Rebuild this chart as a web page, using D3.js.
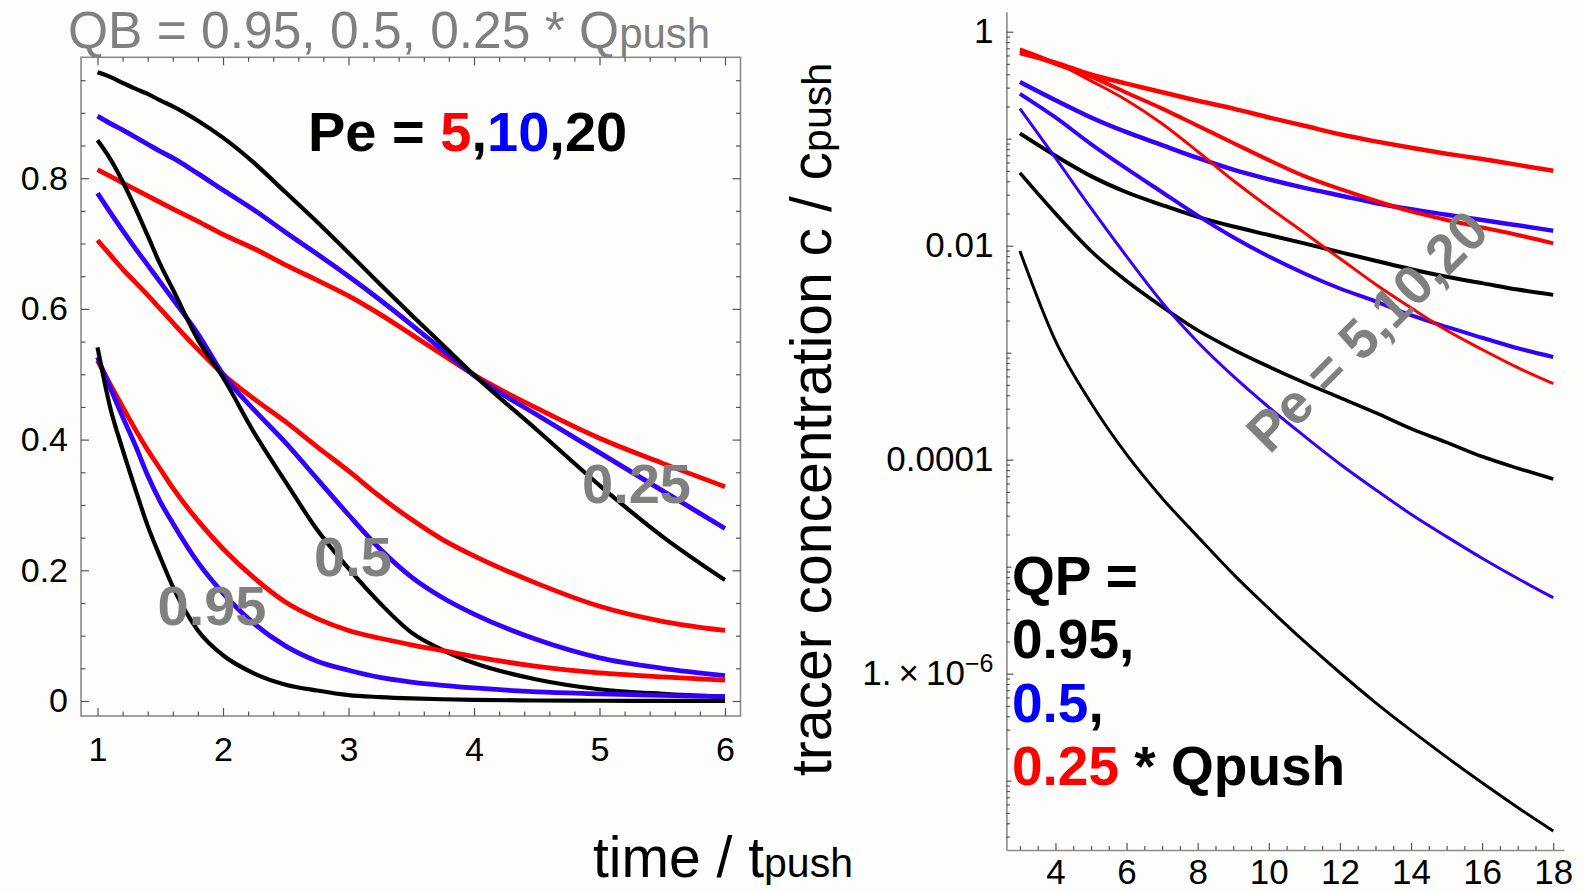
<!DOCTYPE html>
<html>
<head>
<meta charset="utf-8">
<script src="https://cdn.jsdelivr.net/npm/d3@7"></script>
<style>
html, body { margin: 0; padding: 0; background: #fdfefc; }
svg { display: block; font-family: "Liberation Sans", Arial, sans-serif; }
</style>
</head>
<body>
<svg width="1584" height="891"></svg>
<script>
// ---------- data: left panel (linear), t = time / tpush ----------
const tLeft = [1, 1.1, 1.2, 1.3, 1.4, 1.5, 1.6, 1.8, 2, 2.25, 2.5, 2.75, 3, 3.25, 3.5, 3.75, 4, 4.5, 5, 5.5, 6];

// QB = 0.95 * Qpush
const qb95pe5  = [.521, .485, .450, .416, .384, .355, .326, .276, .233, .188, .151, .126, .108, .096, .086, .077, .068, .053, .043, .037, .032];
const qb95pe10 = [.526, .480, .435, .392, .345, .305, .272, .212, .165, .118, .084, .061, .047, .036, .029, .024, .020, .014, .011, .0085, .0067];
const qb95pe20 = [.541, .450, .385, .325, .268, .220, .175, .108, .070, .042, .025, .016, .009, .006, .004, .0027, .0018, .0008, .0004, .0002, .0001];
// QB = 0.5 * Qpush
const qb50pe5  = [.705, .683, .661, .641, .621, .600, .579, .538, .500, .462, .427, .389, .352, .313, .278, .247, .222, .180, .145, .122, .108];
const qb50pe10 = [.777, .748, .720, .693, .667, .641, .615, .562, .500, .445, .395, .340, .285, .233, .190, .158, .133, .094, .066, .050, .039];
const qb50pe20 = [.858, .830, .795, .755, .712, .668, .630, .553, .495, .410, .335, .262, .203, .150, .105, .078, .058, .033, .018, .011, .0066];
// QB = 0.25 * Qpush
const qb25pe5  = [.813, .803, .793, .783, .773, .763, .753, .734, .714, .692, .667, .644, .620, .592, .561, .530, .499, .448, .402, .364, .328];
const qb25pe10 = [.895, .884, .874, .863, .852, .841, .831, .807, .782, .751, .717, .684, .650, .614, .576, .537, .498, .438, .380, .322, .264];
const qb25pe20 = [.962, .955, .946, .937, .929, .919, .910, .888, .862, .823, .778, .733, .686, .638, .591, .545, .499, .415, .330, .252, .185];

// ---------- data: right panel (log), tracer concentration c / cpush ----------
const tRight = [3, 4, 5, 6, 7, 8, 9, 10, 11, 12, 13, 14, 15, 16, 17, 18];

// QP = 0.25 * Qpush (red)
const qp25pe5  = [0.631, 0.513, 0.398, 0.327, 0.272, 0.226, 0.191, 0.158, 0.132, 0.110, 0.0944, 0.0822, 0.0724, 0.0646, 0.0569, 0.0501];
const qp25pe10 = [0.661, 0.501, 0.380, 0.269, 0.191, 0.132, 0.0912, 0.0631, 0.0447, 0.0339, 0.0263, 0.0209, 0.0174, 0.0148, 0.0126, 0.0105];
const qp25pe20 = [0.692, 0.513, 0.347, 0.229, 0.138, 0.0759, 0.0407, 0.0229, 0.0132, 0.00759, 0.00437, 0.00263, 0.00162, 0.00107, 0.000724, 0.000513];
// QP = 0.5 * Qpush (blue)
const qp50pe5  = [0.339, 0.229, 0.158, 0.115, 0.0871, 0.0661, 0.0513, 0.0417, 0.0347, 0.0295, 0.0251, 0.0219, 0.0195, 0.0174, 0.0155, 0.0138];
const qp50pe10 = [0.263, 0.158, 0.0891, 0.0525, 0.0316, 0.0191, 0.0120, 0.00794, 0.00550, 0.00398, 0.00302, 0.00224, 0.00174, 0.00138, 0.00110, 0.000912];
const qp50pe20 = [0.191, 0.0661, 0.0224, 0.00794, 0.00295, 0.00126, 0.000603, 0.000309, 0.000166, 9.12e-5, 5.25e-5, 3.09e-5, 1.91e-5, 1.20e-5, 7.76e-6, 5.13e-6];
// QP = 0.95 * Qpush (black)
const qp95pe5  = [0.112, 0.0692, 0.0447, 0.0316, 0.0240, 0.0186, 0.0151, 0.0126, 0.0105, 0.00871, 0.00724, 0.00603, 0.00513, 0.00447, 0.00389, 0.00347];
const qp95pe10 = [0.0479, 0.0200, 0.00891, 0.00468, 0.00269, 0.00162, 0.00107, 0.000741, 0.000525, 0.000380, 0.000275, 0.000195, 0.000145, 0.000107, 8.32e-5, 6.61e-5];
const qp95pe20 = [0.00891, 0.00129, 0.000339, 0.000112, 4.37e-5, 1.91e-5, 8.51e-6, 4.07e-6, 2.00e-6, 1.02e-6, 5.37e-7, 2.95e-7, 1.66e-7, 9.55e-8, 5.62e-8, 3.39e-8];

// ---------- tick labels ----------
const leftXTicks = [1, 2, 3, 4, 5, 6];
const leftYTicks = [0, 0.2, 0.4, 0.6, 0.8];
const rightXTicks = [4, 6, 8, 10, 12, 14, 16, 18];
const rightYTicks = [1, 1e-2, 1e-4, 1e-6];

const RED = '#ff0000', BLUE = '#3300ff', BLACK = '#000000', GRAY = '#808080';

const svg = d3.select('svg');
svg.append('rect').attr('width', 1584).attr('height', 891).attr('fill', '#fdfefc');

// ================= left panel =================
const xL = d3.scaleLinear().domain([1, 6]).range([97.5, 725]);
const yL = d3.scaleLinear().domain([0, 0.8]).range([701, 178.2]);
const frame = { x0: 81, x1: 740.5, y0: 57.3, y1: 716 };

const left = svg.append('g');

// frame
left.append('rect')
    .attr('x', frame.x0).attr('y', frame.y0)
    .attr('width', frame.x1 - frame.x0).attr('height', frame.y1 - frame.y0)
    .attr('fill', 'none').attr('stroke', '#8a8a8a').attr('stroke-width', 1.6);

const xMinor = d3.range(1, 6.001, 0.2).map(d => +d.toFixed(2)).filter(d => !leftXTicks.includes(d));
const yMinor = d3.range(0, 0.96, 0.05).map(d => +d.toFixed(2)).filter(d => !leftYTicks.includes(d));

function styleAxis(g) {
    g.select('.domain').remove();
    g.selectAll('.tick line').attr('stroke', '#555').attr('stroke-width', 1.2);
    g.selectAll('.tick text').attr('fill', '#000');
}

// bottom
left.append('g').attr('transform', `translate(0,${frame.y1})`)
    .call(d3.axisBottom(xL).tickValues(leftXTicks).tickSize(-8).tickPadding(21).tickFormat(d3.format('d')))
    .attr('font-size', 34).attr('font-family', null)
    .call(styleAxis);
left.append('g').attr('transform', `translate(0,${frame.y1})`)
    .call(d3.axisBottom(xL).tickValues(xMinor).tickSize(-4.5).tickFormat(''))
    .call(styleAxis);
// top
left.append('g').attr('transform', `translate(0,${frame.y0})`)
    .call(d3.axisTop(xL).tickValues(leftXTicks).tickSize(-8).tickFormat(''))
    .call(styleAxis);
left.append('g').attr('transform', `translate(0,${frame.y0})`)
    .call(d3.axisTop(xL).tickValues(xMinor).tickSize(-4.5).tickFormat(''))
    .call(styleAxis);
// left
left.append('g').attr('transform', `translate(${frame.x0},0)`)
    .call(d3.axisLeft(yL).tickValues(leftYTicks).tickSize(-8).tickPadding(13)
        .tickFormat(d => d === 0 ? '0' : d3.format('.1f')(d)))
    .attr('font-size', 34).attr('font-family', null)
    .call(styleAxis);
left.append('g').attr('transform', `translate(${frame.x0},0)`)
    .call(d3.axisLeft(yL).tickValues(yMinor).tickSize(-4.5).tickFormat(''))
    .call(styleAxis);
// right
left.append('g').attr('transform', `translate(${frame.x1},0)`)
    .call(d3.axisRight(yL).tickValues(leftYTicks).tickSize(-8).tickFormat(''))
    .call(styleAxis);
left.append('g').attr('transform', `translate(${frame.x1},0)`)
    .call(d3.axisRight(yL).tickValues(yMinor).tickSize(-4.5).tickFormat(''))
    .call(styleAxis);

const lineL = d3.line().x(d => xL(d[0])).y(d => yL(d[1])).curve(d3.curveMonotoneX);
const leftSeries = [
    { v: qb25pe5, c: RED, w: 4.8 }, { v: qb25pe10, c: BLUE, w: 4.8 }, { v: qb25pe20, c: BLACK, w: 4.2 },
    { v: qb50pe5, c: RED, w: 4.8 }, { v: qb50pe10, c: BLUE, w: 4.8 }, { v: qb50pe20, c: BLACK, w: 4.2 },
    { v: qb95pe5, c: RED, w: 4.8 }, { v: qb95pe10, c: BLUE, w: 4.8 }, { v: qb95pe20, c: BLACK, w: 4.2 }
];
left.append('g').selectAll('path')
    .data(leftSeries)
    .enter()
    .append('path')
    .attr('d', s => lineL(s.v.map((y, i) => [tLeft[i], y])))
    .attr('fill', 'none')
    .attr('stroke', s => s.c)
    .attr('stroke-width', s => s.w)
    .attr('stroke-linejoin', 'round');

// labels inside left panel
const pe = left.append('text').attr('x', 308).attr('y', 151)
    .attr('font-size', 56).attr('font-weight', 'bold').attr('fill', BLACK);
pe.append('tspan').text('Pe = ');
pe.append('tspan').attr('fill', RED).text('5');
pe.append('tspan').text(',');
pe.append('tspan').attr('fill', '#0000ff').text('10');
pe.append('tspan').text(',20');

[['0.95', 157.5, 625], ['0.5', 314, 576], ['0.25', 582, 503]].forEach(([t, x, y]) => {
    left.append('text').attr('x', x).attr('y', y)
        .attr('font-size', 56).attr('font-weight', 'bold').attr('fill', GRAY).text(t);
});

// title
const title = svg.append('text').attr('x', 68).attr('y', 48)
    .attr('font-size', 51.5).attr('fill', GRAY);
title.append('tspan').text('QB = 0.95, 0.5, 0.25 * Q');
title.append('tspan').attr('font-size', 42).text('push');

// x label
const xlab = svg.append('text').attr('x', 593).attr('y', 877)
    .attr('font-size', 57).attr('fill', BLACK);
xlab.append('tspan').text('time / t');
xlab.append('tspan').attr('font-size', 41).text('push');

// ================= right panel =================
const xR = d3.scaleLinear().domain([2.62, 18.3]).range([1006.4, 1563.9]);
const yR = d3.scaleLog().domain([Math.pow(10, 0.187), Math.pow(10, -7.648)]).range([11.7, 850]);

const right = svg.append('g');

function styleAxisR(g) {
    g.select('.domain').attr('stroke', '#8a8a8a').attr('stroke-width', 1.6);
    g.selectAll('.tick line').attr('stroke', '#555').attr('stroke-width', 1.2);
    g.selectAll('.tick text').attr('fill', '#000');
}

// y minor ticks: 2..9 x 10^k, medium at odd decades
const yMinorR = [];
const yMediumR = [];
for (let k = 0; k >= -8; k--) {
    for (let m = 2; m <= 9; m++) {
        const v = m * Math.pow(10, k - 1);
        if (v <= Math.pow(10, 0.187) && v >= Math.pow(10, -7.648)) yMinorR.push(v);
    }
    if (k % 2 !== 0) yMediumR.push(Math.pow(10, k));
}
const xMinorR = d3.range(3, 18.01, 0.5).filter(d => !rightXTicks.includes(d));

right.append('g').attr('transform', `translate(${xR(2.62)},0)`)
    .call(d3.axisLeft(yR).tickValues(yMinorR).tickSize(-3.5).tickSizeOuter(0).tickFormat(''))
    .call(styleAxisR);
right.append('g').attr('transform', `translate(${xR(2.62)},0)`)
    .call(d3.axisLeft(yR).tickValues(yMediumR).tickSize(-5).tickSizeOuter(0).tickFormat(''))
    .call(g => g.select('.domain').remove())
    .call(styleAxisR);
right.append('g').attr('transform', `translate(${xR(2.62)},0)`)
    .call(d3.axisLeft(yR).tickValues(rightYTicks).tickSize(-7).tickSizeOuter(0).tickPadding(13)
        .tickFormat(d => d === 1 ? '1' : d === 1e-2 ? '0.01' : d === 1e-4 ? '0.0001' : ''))
    .attr('font-size', 35).attr('font-family', null)
    .call(g => g.select('.domain').remove())
    .call(styleAxisR)
    .call(g => g.selectAll('.tick text').filter(d => d === 1e-6).each(function () {
        const t = d3.select(this);
        t.append('tspan').text('1.\u2009\u00d7\u200910');
        t.append('tspan').attr('dy', '-0.55em').attr('font-size', 25).text('\u22126');
    }));

right.append('g').attr('transform', `translate(0,${yR(Math.pow(10, -7.648))})`)
    .call(d3.axisBottom(xR).tickValues(xMinorR).tickSize(-4).tickSizeOuter(0).tickFormat(''))
    .call(styleAxisR);
right.append('g').attr('transform', `translate(0,${yR(Math.pow(10, -7.648))})`)
    .call(d3.axisBottom(xR).tickValues(rightXTicks).tickSize(-7).tickSizeOuter(0).tickPadding(9).tickFormat(d3.format('d')))
    .attr('font-size', 35).attr('font-family', null)
    .call(g => g.select('.domain').remove())
    .call(styleAxisR);

const lineR = d3.line().x(d => xR(d[0])).y(d => yR(d[1])).curve(d3.curveMonotoneX);
const rightSeries = [
    { v: qp95pe20, c: BLACK, w: 3 }, { v: qp95pe10, c: BLACK, w: 3.6 }, { v: qp95pe5, c: BLACK, w: 4 },
    { v: qp50pe20, c: BLUE, w: 3 }, { v: qp50pe10, c: BLUE, w: 4 }, { v: qp50pe5, c: BLUE, w: 4.5 },
    { v: qp25pe20, c: RED, w: 3 }, { v: qp25pe10, c: RED, w: 4 }, { v: qp25pe5, c: RED, w: 4.5 }
];
right.append('g').selectAll('path')
    .data(rightSeries)
    .enter()
    .append('path')
    .attr('d', s => lineR(s.v.map((y, i) => [tRight[i], y])))
    .attr('fill', 'none')
    .attr('stroke', s => s.c)
    .attr('stroke-width', s => s.w)
    .attr('stroke-linejoin', 'round');

// y label (rotated)
const ylab = svg.append('text')
    .attr('transform', 'translate(831,776) rotate(-90)')
    .attr('font-size', 57).attr('fill', BLACK);
ylab.append('tspan').text('tracer concentration c / c');
ylab.append('tspan').attr('font-size', 41).text('push');

// rotated Pe label
right.append('text')
    .attr('transform', 'translate(1367,331) rotate(-45)')
    .attr('text-anchor', 'middle').attr('dominant-baseline', 'central')
    .attr('font-size', 55).attr('font-weight', 'bold').attr('fill', GRAY)
    .text('Pe = 5,10,20');

// QP legend block
const qpLines = [
    [['QP =', BLACK]],
    [['0.95,', BLACK]],
    [['0.5', '#0000ff'], [',', BLACK]],
    [['0.25', RED], [' * Qpush', BLACK]]
];
const qpBase = [595, 658, 722, 785];
qpLines.forEach((parts, i) => {
    const t = right.append('text').attr('x', 1012).attr('y', qpBase[i])
        .attr('font-size', 55).attr('font-weight', 'bold');
    parts.forEach(([s, c]) => t.append('tspan').attr('fill', c).text(s));
});
</script>
</body>
</html>
